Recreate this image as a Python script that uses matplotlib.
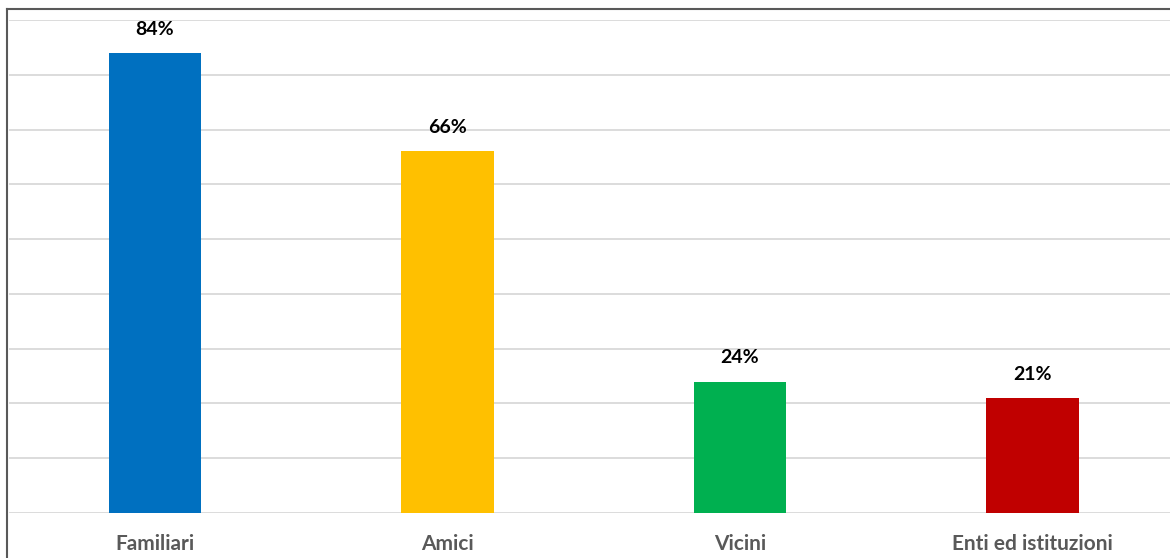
import matplotlib.pyplot as plt
from matplotlib.lines import Line2D

categories = ['Familiari', 'Amici', 'Vicini', 'Enti ed istituzioni']
values = [84, 66, 24, 21]
colors = ['#0070C0', '#FFC000', '#00B050', '#C00000']

plt.rcParams['font.family'] = ['Lato', 'DejaVu Sans']

fig = plt.figure(figsize=(11.7, 5.58), dpi=100)
ax = fig.add_axes([8.75 / 1170, 45 / 558, 1.0, 493 / 558])

x = range(len(categories))
ax.bar(x, values, width=0.315, color=colors, zorder=3)

for xi, v in zip(x, values):
    ax.annotate(f'{v}%', (xi, v), xytext=(0, 11), textcoords='offset points',
                ha='center', va='bottom', fontsize=14, fontweight='bold', color='black')

ax.set_xlim(-0.5, 3.5)
ax.set_ylim(0, 90)
ax.set_yticks(range(0, 91, 10))
ax.yaxis.grid(True, color='#D9D9D9', linewidth=1.3, zorder=0)
ax.set_yticklabels([])
ax.tick_params(axis='y', length=0)
ax.tick_params(axis='x', length=0, pad=15)
ax.set_xticks(list(x))
ax.set_xticklabels(categories, fontsize=15, fontweight='bold', color='#595959')
for s in ax.spines.values():
    s.set_visible(False)

# outer chart border (only top and left visible)
fig.add_artist(Line2D([7 / 1170, 7 / 1170], [0, 1 - 9 / 558], color='#595959', linewidth=1.5,
                      transform=fig.transFigure))
fig.add_artist(Line2D([7 / 1170, 1], [1 - 9 / 558, 1 - 9 / 558], color='#595959', linewidth=1.5,
                      transform=fig.transFigure))

fig.savefig('out.png', dpi=100)
